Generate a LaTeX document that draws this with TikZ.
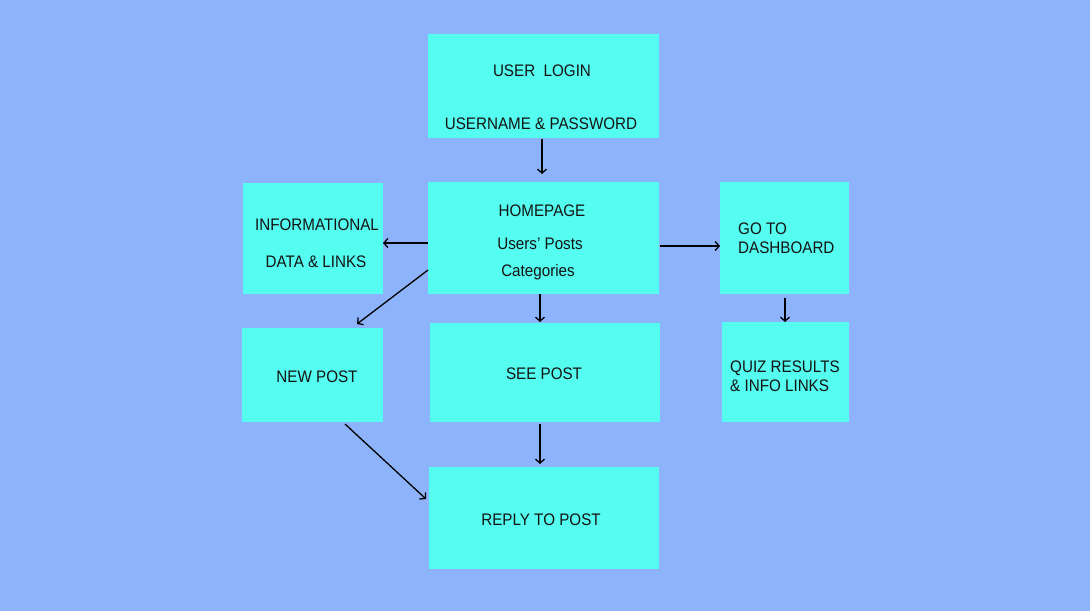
\documentclass[tikz,border=0pt]{standalone}
\usepackage{fontspec}
\setmainfont{Liberation Sans}[FakeStretch=0.91]
\usetikzlibrary{arrows.meta,calc}
\definecolor{bgc}{RGB}{141,179,250}
\definecolor{boxc}{RGB}{85,253,240}
\definecolor{txtc}{RGB}{20,20,20}
\begin{document}
\begin{tikzpicture}[x=1pt,y=-1pt,
  box/.style={fill=boxc,draw=none,inner sep=0pt,outer sep=0pt},
  lbl/.style={text=txtc,inner sep=0pt,anchor=base,font=\fontsize{16.7}{18}\selectfont},
  lbll/.style={lbl,anchor=base west},
  arr/.style={draw=black,line width=1.3pt,-{Straight Barb[length=4pt,width=9pt]}}]
\fill[bgc] (0,0) rectangle (1090,611);
\useasboundingbox (0,0) rectangle (1090,611);
% boxes
\node[box,minimum width=231pt,minimum height=104pt] (login) at (543.5,86) {};
\node[box,minimum width=231pt,minimum height=112pt] (home) at (543.5,238) {};
\node[box,minimum width=140pt,minimum height=111pt] (info) at (313,238.5) {};
\node[box,minimum width=129pt,minimum height=112pt] (dash) at (784.5,238) {};
\node[box,minimum width=141pt,minimum height=94pt] (newpost) at (312.5,375) {};
\node[box,minimum width=230pt,minimum height=99pt] (seepost) at (545,372.5) {};
\node[box,minimum width=127pt,minimum height=100pt] (quiz) at (785.5,372) {};
\node[box,minimum width=230pt,minimum height=102pt] (reply) at (544,518) {};
% texts
\node[lbl] (t1) at (542,76) {USER\ \ LOGIN};
\node[lbl] (t2) at (541,129) {USERNAME \& PASSWORD};
\node[lbl] (t3) at (542,216) {HOMEPAGE};
\node[lbl] (t4) at (540,249) {Users’ Posts};
\node[lbl] (t5) at (538,276) {Categories};
\node[lbl] (t6) at (317,230) {INFORMATIONAL};
\node[lbl] (t7) at (316,267) {DATA \& LINKS};
\node[lbll] (t8) at (738,234) {GO TO};
\node[lbll] (t9) at (738,253) {DASHBOARD};
\node[lbl] (t10) at (317,382) {NEW POST};
\node[lbl] (t11) at (544,379) {SEE POST};
\node[lbll] (t12) at (730,372) {QUIZ RESULTS};
\node[lbll] (t13) at (730,391) {\& INFO LINKS};
\node[lbl] (t14) at (541,525) {REPLY TO POST};
% arrows
\draw[arr] ($(login.south)+(-1.5,1)$) -- ($(home.north)+(-1.5,-8)$);
\draw[arr] ($(home.west)+(0,5)$) -- ($(info.east)+(0,4.5)$);
\draw[arr] ($(home.west)+(0,32)$) -- ($(newpost.north)+(44.5,-4)$);
\draw[arr] ($(home.south)+(-3.5,0)$) -- ($(seepost.north)+(-5,-1)$);
\draw[arr] ($(home.east)+(1,8)$) -- ($(dash.west)+(0,8)$);
\draw[arr] ($(dash.south)+(0.5,4)$) -- ($(quiz.north)+(-0.5,0)$);
\draw[arr] ($(seepost.south)+(-5,2)$) -- ($(reply.north)+(-4,-3)$);
\draw[arr] ($(newpost.south)+(32.5,2)$) -- ($(reply.west)+(-3,-19)$);
\end{tikzpicture}
\end{document}
